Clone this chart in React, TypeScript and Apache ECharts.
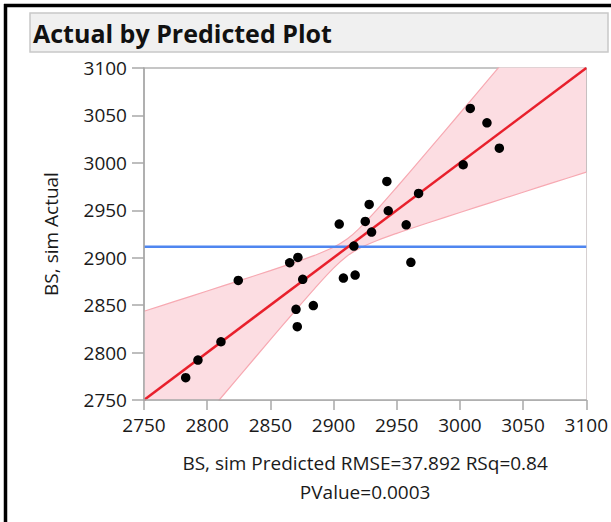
import React, { useEffect, useRef } from "react";
import * as echarts from "echarts";

// Points: [BS, sim Predicted, BS, sim Actual]
const predicted = [
  2783.0, 2792.7, 2810.9, 2824.6, 2865.3, 2871.8, 2870.3, 2871.3, 2875.6, 2884.0,
  2904.5, 2907.8, 2917.1, 2916.1, 2925.1, 2928.2, 2930.1, 2942.2, 2943.3, 2957.5,
  2961.2, 2967.3, 3002.6, 3008.2, 3021.4, 3031.2,
];
const actual = [
  2773.5, 2792.1, 2811.4, 2876.1, 2894.7, 2900.3, 2845.6, 2827.3, 2877.2, 2849.5,
  2935.5, 2878.6, 2881.7, 2912.3, 2938.3, 2956.2, 2927.0, 2980.4, 2949.5, 2934.7,
  2895.1, 2967.8, 2998.0, 3057.4, 3042.2, 3015.5,
];

// Confidence band edges
const bandX = [2750, 2775, 2800, 2825, 2850, 2870, 2885, 2900, 2911, 2920, 2935, 2950, 2975, 3000, 3025, 3050, 3075, 3100];
const bandLower = [2656.4, 2695.8, 2735.1, 2774.4, 2813.6, 2844.6, 2867.5, 2889.0, 2902.0, 2909.6, 2918.4, 2925.7, 2936.9, 2947.7, 2958.4, 2969.0, 2979.7, 2990.2];
const bandUpper = [2843.6, 2854.2, 2864.9, 2875.6, 2886.4, 2895.4, 2902.5, 2911.0, 2920.0, 2930.4, 2951.6, 2974.3, 3013.1, 3052.3, 3091.6, 3131.0, 3170.3, 3209.8];

const meanActual = 2911.5;
const axisMin = 2750;
const axisMax = 3100;
const axisStep = 50;

const titleText = "Actual by Predicted Plot";
const xTitle = "BS, sim Predicted RMSE=37.892 RSq=0.84";
const xSubTitle = "PValue=0.0003";
const yTitle = "BS, sim Actual";

const FONT = "'Open Sans', 'Noto Sans', sans-serif";

export default function App() {
  const ref = useRef<HTMLDivElement>(null);

  useEffect(() => {
    if (!ref.current) return;
    const chart = echarts.init(ref.current, undefined, { renderer: "svg" });

    const labelStyle = { color: "#1a1a1a", fontSize: 19, fontFamily: FONT };
    const axisLineColor = "#a8a8a8";
    const fmt = (v: number) => String(v);

    chart.setOption({
      animation: false,
      backgroundColor: "#ffffff",
      textStyle: { fontFamily: FONT },
      grid: {
        left: 144,
        right: 24.5,
        top: 68,
        bottom: 122,
        show: true,
        borderColor: "#b4b4b4",
        borderWidth: 1.5,
        backgroundColor: "transparent",
      },
      xAxis: {
        type: "value",
        z: 10,
        min: axisMin,
        max: axisMax,
        interval: axisStep,
        axisLine: { show: true, onZero: false, lineStyle: { color: axisLineColor, width: 1.5 } },
        axisTick: { show: true, length: 10, lineStyle: { color: axisLineColor, width: 1.5 } },
        axisLabel: { ...labelStyle, margin: 15, formatter: fmt },
        splitLine: { show: false },
        name: xTitle + "\n" + xSubTitle,
        nameLocation: "middle",
        nameGap: 48,
        nameTextStyle: { ...labelStyle, lineHeight: 29 },
      },
      yAxis: {
        type: "value",
        z: 10,
        min: axisMin,
        max: axisMax,
        interval: axisStep,
        axisLine: { show: true, onZero: false, lineStyle: { color: axisLineColor, width: 1.5 } },
        axisTick: { show: true, length: 12, lineStyle: { color: axisLineColor, width: 1.5 } },
        axisLabel: { ...labelStyle, margin: 17, formatter: fmt },
        splitLine: { show: false },
        name: yTitle,
        nameLocation: "middle",
        nameGap: 84,
        nameRotate: 90,
        nameTextStyle: { ...labelStyle },
      },
      series: [
        {
          type: "line",
          name: "bandUpper",
          smooth: 0.35,
          symbol: "none",
          silent: true,
          lineStyle: { color: "#f7a9b2", width: 1.2 },
          areaStyle: { color: "#fcdde2", opacity: 1, origin: "start" },
          data: bandX.map((x, i) => [x, bandUpper[i]]),
          z: 1,
        },
        {
          type: "line",
          name: "bandLower",
          smooth: 0.35,
          symbol: "none",
          silent: true,
          lineStyle: { color: "#f7a9b2", width: 1.2 },
          areaStyle: { color: "#ffffff", opacity: 1, origin: "start" },
          data: bandX.map((x, i) => [x, bandLower[i]]),
          z: 1,
        },
        {
          type: "line",
          name: "mean",
          symbol: "none",
          silent: true,
          lineStyle: { color: "#4f86f0", width: 2.5 },
          data: [
            [axisMin, meanActual],
            [axisMax, meanActual],
          ],
          z: 2,
        },
        {
          type: "line",
          name: "fit",
          symbol: "none",
          silent: true,
          lineStyle: { color: "#e8202c", width: 2.5 },
          data: [
            [axisMin, axisMin],
            [axisMax, axisMax],
          ],
          z: 3,
        },
        {
          type: "scatter",
          name: "points",
          symbolSize: 9.5,
          itemStyle: { color: "#000000", opacity: 1 },
          data: predicted.map((p, i) => [p, actual[i]]),
          z: 4,
        },
      ],
      graphic: [
        {
          type: "line",
          shape: { x1: 4, y1: 5.5, x2: 611, y2: 5.5 },
          style: { stroke: "#000", lineWidth: 3.5 },
        },
        {
          type: "line",
          shape: { x1: 5.5, y1: 4, x2: 5.5, y2: 522 },
          style: { stroke: "#000", lineWidth: 3.5 },
        },
        {
          type: "rect",
          shape: { x: 30, y: 13, width: 578, height: 39 },
          style: { fill: "#f0f0f0", stroke: "#c8c8c8", lineWidth: 1.5 },
        },
        {
          type: "text",
          x: 33,
          y: 33,
          style: {
            text: titleText,
            fill: "#111111",
            font: `bold 25px ${FONT}`,
            verticalAlign: "middle",
            align: "left",
          },
        },
      ],
    });

    return () => chart.dispose();
  }, []);

  return (
    <div
      ref={ref}
      style={{ position: "absolute", left: 0, top: 0, width: 611, height: 522, background: "#fff" }}
    />
  );
}
